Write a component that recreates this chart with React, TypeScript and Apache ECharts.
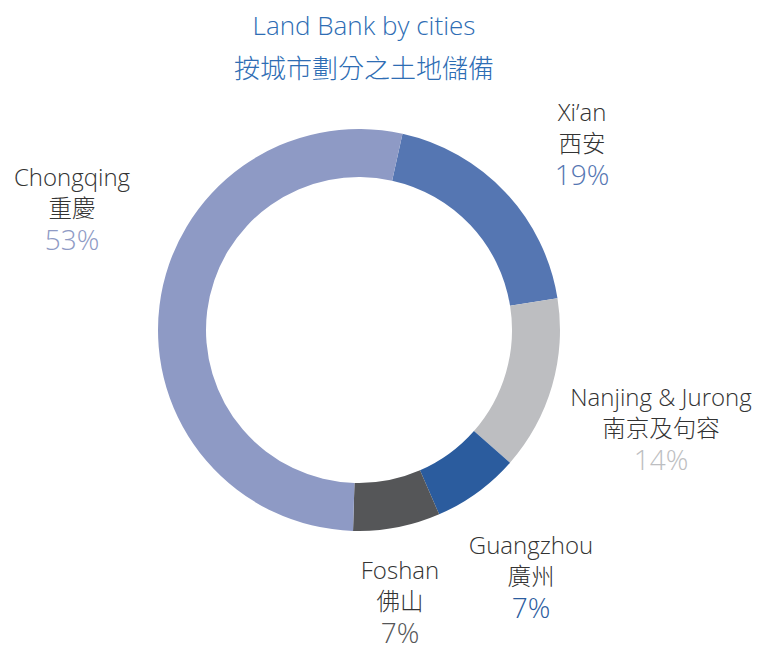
import React, { useEffect, useRef } from "react";
import * as echarts from "echarts";

const cities = ["Xi’an", "Nanjing & Jurong", "Guangzhou", "Foshan", "Chongqing"];
const citiesCn = ["西安", "南京及句容", "廣州", "佛山", "重慶"];
const shares = [19, 14, 7, 7, 53];
const colors = ["#5576b2", "#bdbec1", "#2b5c9e", "#555658", "#8e9ac5"];
const labelSpots = [
  [582, 142],
  [661, 427],
  [531, 575],
  [400, 600],
  [72, 207],
];

const FONT = "'Open Sans', 'Noto Sans CJK TC', sans-serif";

export default function App() {
  const ref = useRef<HTMLDivElement>(null);
  useEffect(() => {
    document.body.style.margin = "0";
    const chart = echarts.init(ref.current!, null, { renderer: "svg" });
    const data = cities.map((c, i) => ({
      name: c,
      value: shares[i],
      itemStyle: { color: colors[i] },
      label: {
        formatter: `{n|${c}}\n{c|${citiesCn[i]}}\n{p|${shares[i]}%}`,
        rich: {
          n: { fontSize: 24, color: "#333", lineHeight: 31, fontFamily: FONT, fontWeight: 300, align: "center" },
          c: { fontSize: 23.5, color: "#333", lineHeight: 32, fontFamily: FONT, fontWeight: 300, align: "center" },
          p: { fontSize: 28, color: colors[i], lineHeight: 30, fontFamily: FONT, fontWeight: 300, align: "center" },
        },
      },
    }));
    chart.setOption({
      animation: false,
      title: {
        text: "Land Bank by cities",
        subtext: "按城市劃分之土地儲備",
        left: 359,
        textAlign: "center",
        top: 7,
        itemGap: 17,
        textStyle: { fontSize: 26, color: "#2e6db4", fontWeight: 300, fontFamily: FONT },
        subtextStyle: { fontSize: 26, color: "#2e6db4", fontWeight: 300, fontFamily: FONT },
      },
      series: [
        {
          type: "pie",
          center: [359, 330],
          radius: [153, 201],
          startAngle: 77.5,
          clockwise: true,
          data,
          label: { show: true, position: "outside", overflow: "none", width: 300 },
          labelLine: { show: false },
          labelLayout: (params: any) => ({
            x: labelSpots[params.dataIndex][0],
            y: labelSpots[params.dataIndex][1],
            align: "center",
            verticalAlign: "middle",
          }),
          emphasis: { disabled: true },
        },
      ],
    });
    return () => chart.dispose();
  }, []);
  return <div ref={ref} style={{ width: 758, height: 647 }} />;
}
